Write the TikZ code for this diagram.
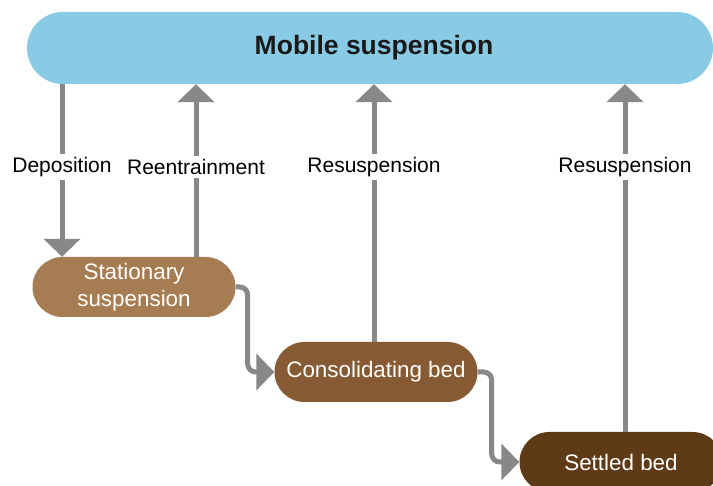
\documentclass[tikz,border=0pt]{standalone}
\usepackage{fontspec}
\setmainfont{Liberation Sans}
\usetikzlibrary{shapes.misc,arrows.meta}

\definecolor{mobileblue}{HTML}{89CBE5}
\definecolor{statbrown}{HTML}{A67C52}
\definecolor{consbrown}{HTML}{865B33}
\definecolor{settbrown}{HTML}{5E3A16}
\definecolor{flowgray}{HTML}{888888}

\tikzstyle{phase}=[rounded rectangle, minimum width=203pt, minimum height=60pt, inner sep=0pt, text=white, align=center, font=\fontsize{22.4}{27}\selectfont]
\tikzstyle{flowto}=[-{Triangle[width=36pt,length=18pt]}, line width=5pt, draw=flowgray]
\tikzstyle{flowlabel}=[fill=white, inner sep=3pt, font=\fontsize{21}{25}\selectfont]

\begin{document}
\begin{tikzpicture}[x=1pt,y=-1pt]
\useasboundingbox (0,0) rectangle (713,486);
\node[rounded rectangle, fill=mobileblue, minimum width=686pt, minimum height=72pt, inner sep=0pt, text=black!90, font=\bfseries\fontsize{26.5}{30}\selectfont] (Mob) at (370,48) {\hspace*{8pt}Mobile suspension};
\node[phase, fill=statbrown] (Sta) at (134,287) {Stationary\\suspension};
\node[phase, fill=consbrown] (Con) at (376,372) {Consolidating bed};
\node[phase, fill=settbrown] (Set) at (621,462) {Settled bed};
% columns of the vertical flows
\coordinate (dep) at (62,0);
\coordinate (ree) at (196,0);
\coordinate (res1) at (374,0);
\coordinate (res2) at (625,0);
\draw[flowto] (Mob.south -| dep) -- node[flowlabel, pos=0.48] {Deposition} (Sta.north -| dep);
\draw[flowto] (Sta.north -| ree) -- node[flowlabel, pos=0.52] {Reentrainment} (Mob.south -| ree);
\draw[flowto] (Con.north -| res1) -- node[flowlabel, pos=0.678] {Resuspension} (Mob.south -| res1);
\draw[flowto] (Set.north -| res2) -- node[flowlabel, pos=0.761] {Resuspension} (Mob.south -| res2);
% settling chain
\draw[flowto, rounded corners=8pt] (Sta.east) -- ++(12,0) |- (Con.west);
\draw[flowto, rounded corners=8pt] (Con.east) -- ++(14,0) |- (Set.west);
\end{tikzpicture}
\end{document}
